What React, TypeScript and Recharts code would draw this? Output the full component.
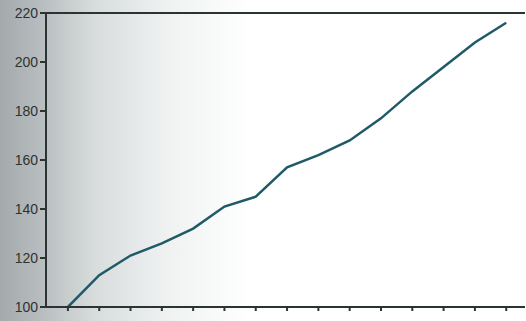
import { LineChart, Line, XAxis, YAxis, ReferenceLine } from "recharts";

const steps = [0, 1, 2, 3, 4, 5, 6, 7, 8, 9, 10, 11, 12, 13, 14];
const values = [100, 113, 121, 126, 132, 141, 145, 157, 162, 168, 177, 188, 198, 208, 216];
const yTicks = [100, 120, 140, 160, 180, 200, 220];

const data = steps.map((s, i) => ({ step: s, value: values[i] }));

export default function App() {
  return (
    <div
      style={{
        position: "fixed",
        top: 0,
        left: 0,
        width: 526,
        height: 321,
        background:
          "linear-gradient(90deg, #a3aaab 0%, #b8bebf 8%, #d8dcdd 18%, #f0f2f2 32%, #ffffff 48%, #ffffff 100%)",
        fontFamily: "'Liberation Sans', Arial, sans-serif",
      }}
    >
      <LineChart
        width={526}
        height={321}
        data={data}
        margin={{ top: 13, right: 1, left: 0, bottom: 4 }}
      >
        <XAxis
          dataKey="step"
          type="number"
          domain={[-0.7, 14.6]}
          ticks={steps}
          tickFormatter={() => ""}
          height={10}
          tickSize={4}
          stroke="#2b3432"
          strokeWidth={2}
          allowDataOverflow
        />
        <YAxis
          type="number"
          domain={[100, 220]}
          ticks={yTicks}
          width={46}
          tickSize={6}
          tickMargin={2}
          stroke="#2b3432"
          strokeWidth={2}
          tick={{ fill: "#2e3232", fontSize: 14 }}
          allowDataOverflow
        />
        <ReferenceLine y={220} stroke="#2b3432" strokeWidth={2} />
        <Line
          type="linear"
          dataKey="value"
          stroke="#1e5a68"
          strokeWidth={2.5}
          dot={false}
          isAnimationActive={false}
        />
      </LineChart>
    </div>
  );
}
